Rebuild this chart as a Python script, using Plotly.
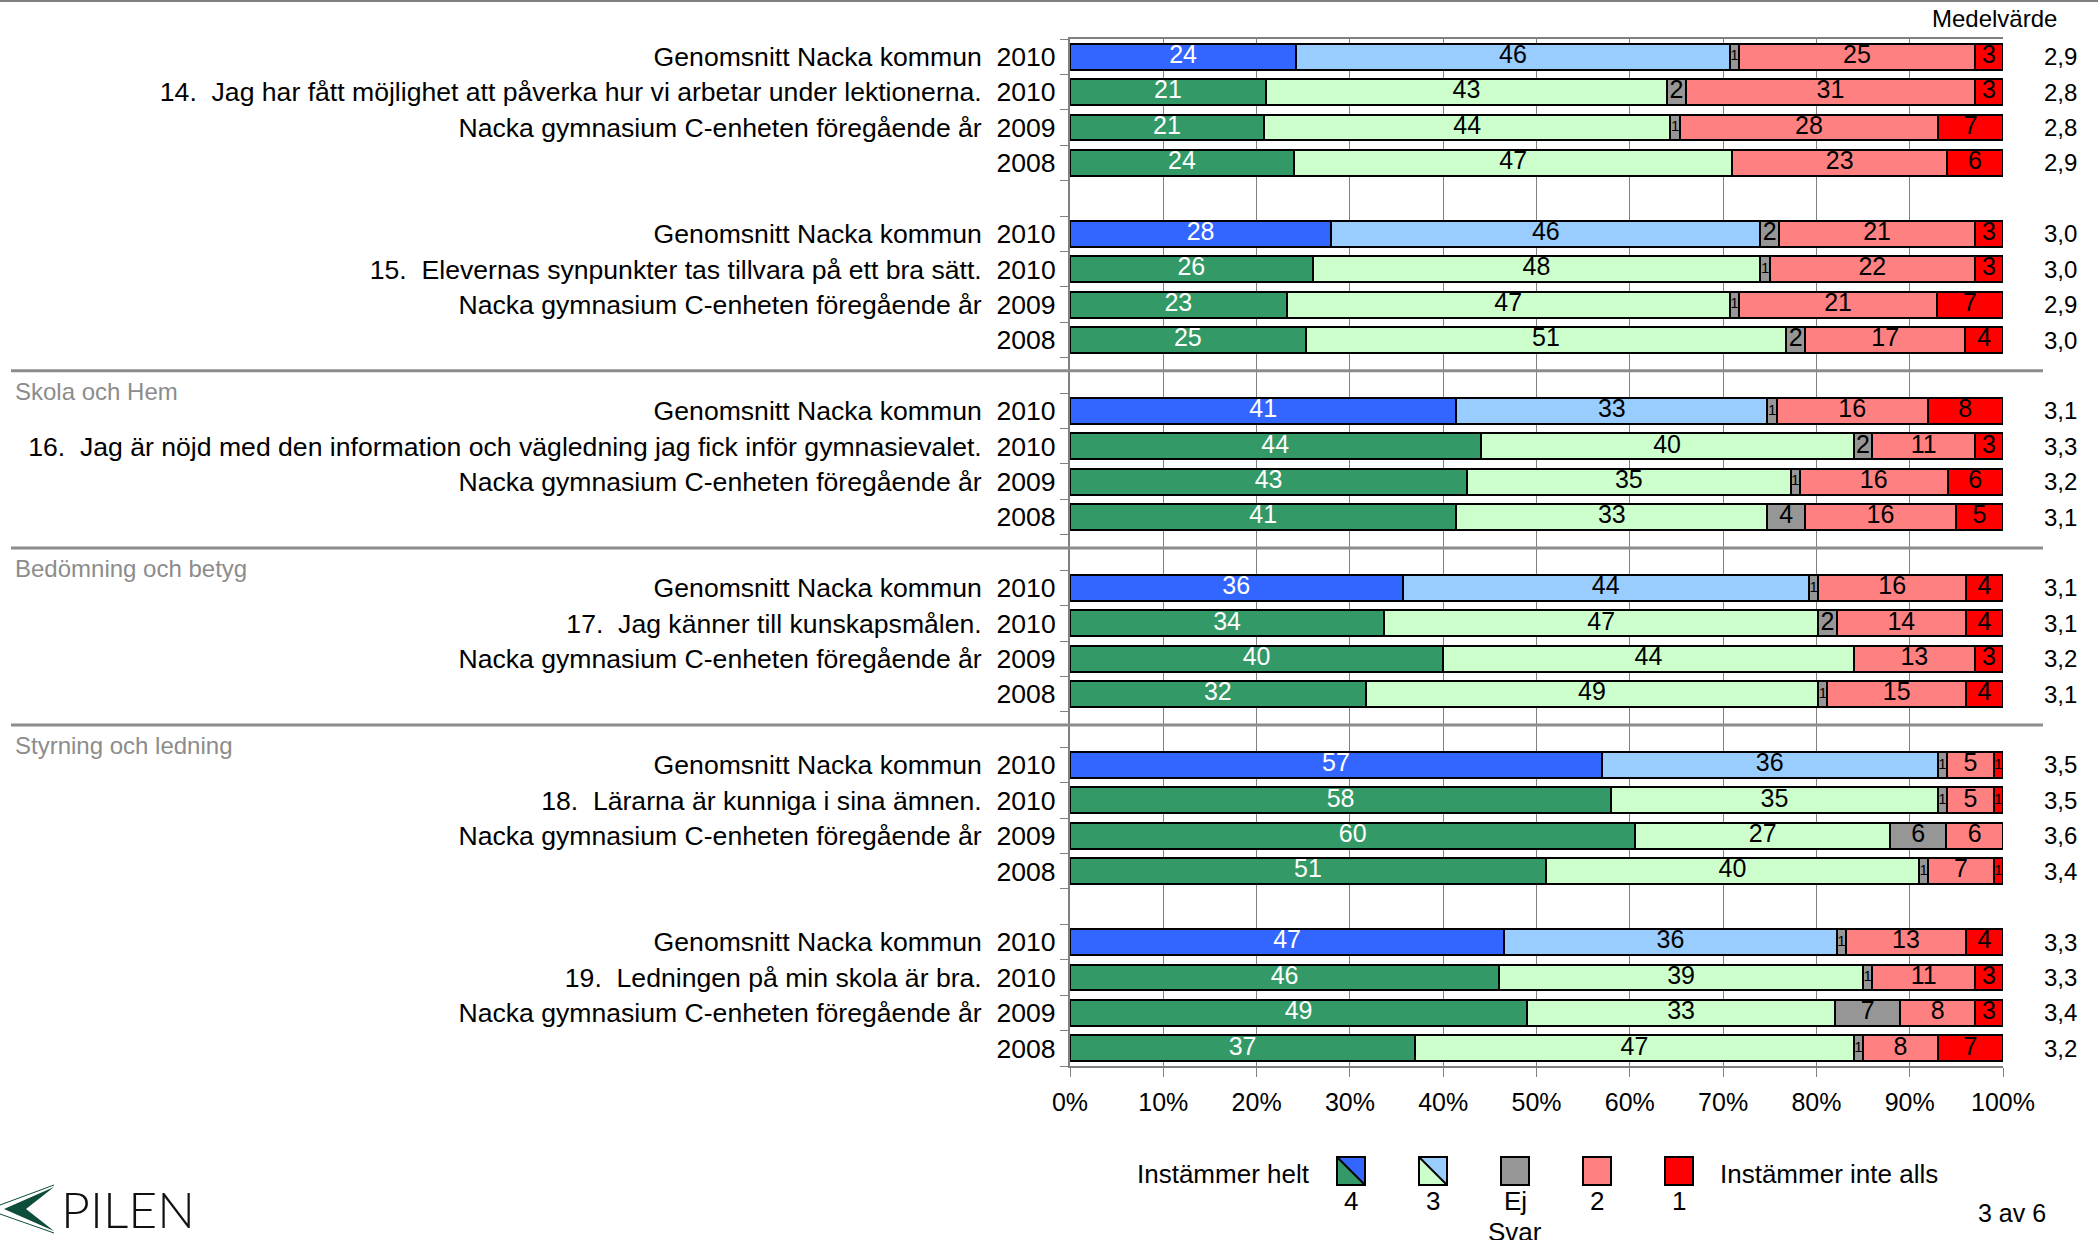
import plotly.graph_objects as go

# rows: 6 questions x 4 rows (kommun average, this year, 2009, 2008)
row_names = [
    "Genomsnitt Nacka kommun", "14.  Jag har fått möjlighet att påverka hur vi arbetar under lektionerna.",
    "Nacka gymnasium C-enheten föregående år", "",
    "Genomsnitt Nacka kommun", "15.  Elevernas synpunkter tas tillvara på ett bra sätt.",
    "Nacka gymnasium C-enheten föregående år", "",
    "Genomsnitt Nacka kommun", "16.  Jag är nöjd med den information och vägledning jag fick inför gymnasievalet.",
    "Nacka gymnasium C-enheten föregående år", "",
    "Genomsnitt Nacka kommun", "17.  Jag känner till kunskapsmålen.",
    "Nacka gymnasium C-enheten föregående år", "",
    "Genomsnitt Nacka kommun", "18.  Lärarna är kunniga i sina ämnen.",
    "Nacka gymnasium C-enheten föregående år", "",
    "Genomsnitt Nacka kommun", "19.  Ledningen på min skola är bra.",
    "Nacka gymnasium C-enheten föregående år", "",
]
row_years = ["2010", "2010", "2009", "2008"] * 6
row_is_avg = [True, False, False, False] * 6

val_4 = [24, 21, 21, 24, 28, 26, 23, 25, 41, 44, 43, 41, 36, 34, 40, 32, 57, 58, 60, 51, 47, 46, 49, 37]
val_3 = [46, 43, 44, 47, 46, 48, 47, 51, 33, 40, 35, 33, 44, 47, 44, 49, 36, 35, 27, 40, 36, 39, 33, 47]
val_ej = [1, 2, 1, 0, 2, 1, 1, 2, 1, 2, 1, 4, 1, 2, 0, 1, 1, 1, 6, 1, 1, 1, 7, 1]
val_2 = [25, 31, 28, 23, 21, 22, 21, 17, 16, 11, 16, 16, 16, 14, 13, 15, 5, 5, 6, 7, 13, 11, 8, 8]
val_1 = [3, 3, 7, 6, 3, 3, 7, 4, 8, 3, 6, 5, 4, 4, 3, 4, 1, 1, 0, 1, 4, 3, 3, 7]
means = ["2,9", "2,8", "2,8", "2,9", "3,0", "3,0", "2,9", "3,0", "3,1", "3,3", "3,2", "3,1",
         "3,1", "3,1", "3,2", "3,1", "3,5", "3,5", "3,6", "3,4", "3,3", "3,3", "3,4", "3,2"]

section_labels = ["", "", "Skola och Hem", "Bedömning och betyg", "Styrning och ledning", ""]
x_ticks = [0, 10, 20, 30, 40, 50, 60, 70, 80, 90, 100]

FONT = "Liberation Sans, Arial, sans-serif"
W, H = 2098, 1240
# plot box in page pixels
PL, PR, PT, PB = 1070, 2003, 39, 1066

def px(x):  # page pixel -> paper x
    return (x - PL) / (PR - PL)

def py(y):  # page pixel -> paper y
    return (PB - y) / (PB - PT)

# slot positions: 4 bars + 1 blank slot per group
slots = [g * 5 + r for g in range(6) for r in range(4)]
totals = [a + b + c + d + e for a, b, c, d, e in zip(val_4, val_3, val_ej, val_2, val_1)]

segments = [
    ("4", val_4, "#3366FF", "#339966", "white"),
    ("3", val_3, "#99CCFF", "#CCFFCC", "black"),
    ("Ej svar", val_ej, "#969696", "#969696", "black"),
    ("2", val_2, "#FF8080", "#FF8080", "black"),
    ("1", val_1, "#FF0000", "#FF0000", "black"),
]

fig = go.Figure()
base = [0.0] * len(slots)
label_x, label_y, label_t, label_c, label_s = [], [], [], [], []
for name, vals, c_avg, c_row, tcol in segments:
    widths = [v / t * 100 for v, t in zip(vals, totals)]
    fig.add_trace(go.Bar(
        y=slots, x=widths, orientation="h", name=name,
        marker=dict(color=[c_avg if a else c_row for a in row_is_avg],
                    line=dict(color="black", width=2)),
        showlegend=False, hoverinfo="skip",
    ))
    for i, (v, w) in enumerate(zip(vals, widths)):
        if v > 0:
            label_x.append(base[i] + w / 2)
            label_y.append(slots[i])
            label_t.append(str(v))
            label_c.append(tcol)
            label_s.append(15 if v == 1 else 25)
        base[i] += w

fig.add_trace(go.Scatter(
    x=label_x, y=label_y, text=label_t, mode="text",
    textposition="middle center",
    textfont=dict(family=FONT, size=label_s, color=label_c),
    showlegend=False, hoverinfo="skip", cliponaxis=False,
))

ticktext = [(n + "\u00a0\u00a0" + y) if n else y for n, y in zip(row_names, row_years)]

fig.update_layout(
    width=W, height=H,
    margin=dict(l=PL, r=W - PR, t=PT, b=H - PB),
    barmode="stack", bargap=0.27,
    plot_bgcolor="white", paper_bgcolor="white",
    font=dict(family=FONT, size=26, color="black"),
    xaxis=dict(range=[0, 100], tickvals=x_ticks, ticktext=[f"{t}%" for t in x_ticks],
               showgrid=True, gridcolor="#808080", gridwidth=1,
               showline=True, linecolor="#808080", linewidth=2, mirror=True,
               ticks="outside", ticklen=9, tickcolor="#808080",
               tickfont=dict(size=25), ticklabelstandoff=4, zeroline=False),
    yaxis=dict(range=[28.5, -0.5], tickmode="array", tickvals=slots, ticktext=ticktext,
               ticks="", showgrid=False, zeroline=False,
               showline=True, linecolor="#808080", linewidth=2,
               tickfont=dict(size=26.6), ticklabelstandoff=7,
               minor=dict(tickvals=[i - 0.5 for i in range(30)], ticks="outside",
                          ticklen=8, tickcolor="#808080", showgrid=False)),
)

shapes = []
annotations = []

# top page rule
shapes.append(dict(type="line", xref="paper", yref="paper", x0=px(0), x1=px(W), y0=py(1), y1=py(1),
                   line=dict(color="#808080", width=2)))

# section separators and labels
for g, lab in enumerate(section_labels):
    if not lab:
        continue
    gap = g * 5 - 1
    shapes.append(dict(type="line", xref="paper", yref="y", x0=px(11), x1=px(2043),
                       y0=gap - 0.13, y1=gap - 0.13, line=dict(color="#8c8c8c", width=3)))
    annotations.append(dict(xref="paper", yref="y", x=px(13), y=gap + 0.45, text=lab,
                            showarrow=False, xanchor="left", yanchor="middle",
                            font=dict(size=24, color="#8c8c8c")))

# mean column
annotations.append(dict(xref="paper", yref="paper", x=px(1994), y=py(18), text="Medelvärde",
                        showarrow=False, xanchor="center", yanchor="middle", font=dict(size=24)))
for s, m in zip(slots, means):
    annotations.append(dict(xref="paper", yref="y", x=px(2060), y=s, text=m, showarrow=False,
                            xanchor="center", yanchor="middle", font=dict(size=24)))

# custom legend
leg_y0, leg_y1 = 1157, 1185
annotations.append(dict(xref="paper", yref="paper", x=px(1312), y=py(1174), text="Instämmer helt",
                        showarrow=False, xanchor="right", yanchor="middle", font=dict(size=26)))
annotations.append(dict(xref="paper", yref="paper", x=px(1718), y=py(1174), text="Instämmer inte alls",
                        showarrow=False, xanchor="left", yanchor="middle", font=dict(size=26)))
leg_x = [1337, 1419, 1501, 1583, 1665]
leg_txt = ["4", "3", "Ej", "2", "1"]
for i, (name, vals, c_avg, c_row, tcol) in enumerate(segments):
    x0, x1 = px(leg_x[i]), px(leg_x[i] + 28)
    y0, y1 = py(leg_y1), py(leg_y0)
    if c_avg != c_row:
        shapes.append(dict(type="path", xref="paper", yref="paper",
                           path=f"M {x0} {y1} L {x0} {y0} L {x1} {y0} Z",
                           fillcolor=c_row, line=dict(width=0)))
        shapes.append(dict(type="path", xref="paper", yref="paper",
                           path=f"M {x0} {y1} L {x1} {y1} L {x1} {y0} Z",
                           fillcolor=c_avg, line=dict(width=0)))
        shapes.append(dict(type="line", xref="paper", yref="paper", x0=x0, y0=y1, x1=x1, y1=y0,
                           line=dict(color="black", width=2)))
        shapes.append(dict(type="rect", xref="paper", yref="paper", x0=x0, y0=y0, x1=x1, y1=y1,
                           line=dict(color="black", width=2)))
    else:
        shapes.append(dict(type="rect", xref="paper", yref="paper", x0=x0, y0=y0, x1=x1, y1=y1,
                           fillcolor=c_row, line=dict(color="black", width=2)))
    annotations.append(dict(xref="paper", yref="paper", x=px(leg_x[i] + 14), y=py(1201), text=leg_txt[i],
                            showarrow=False, xanchor="center", yanchor="middle", font=dict(size=26)))
annotations.append(dict(xref="paper", yref="paper", x=px(1515), y=py(1232), text="Svar",
                        showarrow=False, xanchor="center", yanchor="middle", font=dict(size=26)))

# page number
annotations.append(dict(xref="paper", yref="paper", x=px(2012), y=py(1213), text="3 av 6",
                        showarrow=False, xanchor="center", yanchor="middle", font=dict(size=25)))

# PILEN logo
shapes.append(dict(type="path", xref="paper", yref="paper",
                   path=f"M {px(54)} {py(1187)} L {px(4)} {py(1209)} L {px(54)} {py(1231)} "
                        f"L {px(26)} {py(1209)} Z",
                   fillcolor="#0d4d3b", line=dict(width=0)))
shapes.append(dict(type="path", xref="paper", yref="paper",
                   path=f"M {px(54)} {py(1185)} L {px(0)} {py(1205)}",
                   line=dict(color="#0d4d3b", width=1)))
shapes.append(dict(type="path", xref="paper", yref="paper",
                   path=f"M {px(0)} {py(1214)} L {px(54)} {py(1233)}",
                   line=dict(color="#0d4d3b", width=1)))
annotations.append(dict(xref="paper", yref="paper", x=px(59), y=py(1209), text="PILEN",
                        showarrow=False, xanchor="left", yanchor="middle",
                        font=dict(family="Lato, Liberation Sans", size=50, weight=300, color="#111")))

fig.update_layout(shapes=shapes, annotations=annotations)
fig.write_html("out.html", config={"displayModeBar": False},
               post_script="document.body.style.margin='0px';")
